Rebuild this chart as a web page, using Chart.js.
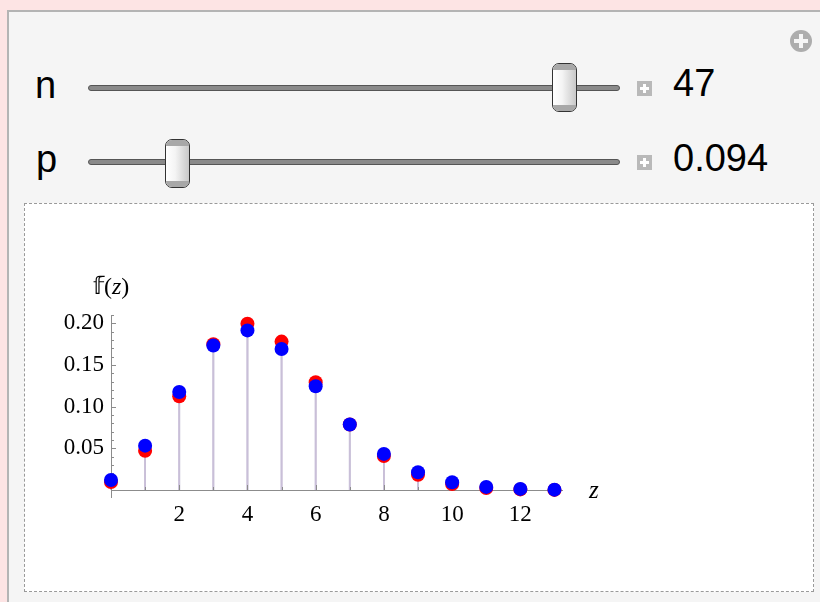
<!DOCTYPE html>
<html>
<head>
<meta charset="utf-8">
<script src="https://cdn.jsdelivr.net/npm/chart.js@4"></script>
<style>
  body { margin: 0; width: 820px; height: 602px; background: #fde4e4; overflow: hidden; position: relative; font-family: "Liberation Sans", Arial, sans-serif; }
  .panel { position: absolute; left: 7px; top: 10px; width: 830px; height: 610px; background: #f5f5f5; border-left: 2px solid #b4b4b4; border-top: 2px solid #b4b4b4; }
  .lbl { position: absolute; font-size: 38px; color: #000; line-height: 1; }
  .track { position: absolute; left: 88px; width: 530px; height: 4px; background: #8a8a8a; border: 1px solid #555; border-radius: 3px; }
  .thumb { position: absolute; width: 23px; height: 47px; border: 1px solid #333; border-radius: 7px; background: linear-gradient(to right, #ffffff 0%, #f4f4f4 40%, #c8c8c8 100%); box-sizing: content-box; overflow: hidden; }
  .thumb::before, .thumb::after { content: ""; position: absolute; left: 0; right: 0; height: 6px; background: #a8a8a8; }
  .thumb::before { top: 0; }
  .thumb::after { bottom: 0; }
  .plus { position: absolute; left: 637px; width: 15px; height: 15px; background: #b9b9b9; }
  .plus::before, .plus::after { content: ""; position: absolute; background: #fff; }
  .plus::before { left: 6px; top: 3px; width: 3px; height: 9px; }
  .plus::after { left: 3px; top: 6px; width: 9px; height: 3px; }
  .gear { position: absolute; left: 790px; top: 30px; width: 22px; height: 22px; border-radius: 50%; background: #adadad; }
  .gear::before, .gear::after { content: ""; position: absolute; background: #f5f5f5; }
  .gear::before { left: 9px; top: 4px; width: 4px; height: 14px; }
  .gear::after { left: 4px; top: 9px; width: 14px; height: 4px; }
  .plot { position: absolute; left: 24px; top: 203px; width: 788px; height: 387px; background: #fff; border: 1px dashed #9a9a9a; }
  #chart { position: absolute; left: 0; top: 0; }
  .axlbl { position: absolute; font-family: "Liberation Serif", "Times New Roman", serif; color: #000; line-height: 1; }
</style>
</head>
<body>
<div class="panel"></div>
<div class="gear"></div>

<div class="lbl" style="left:35px; top:66px;">n</div>
<div class="track" style="top:85px;"></div>
<div class="thumb" style="left:552px; top:63px;"></div>
<div class="plus" style="top:81px;"></div>
<div class="lbl" style="left:673px; top:64px;">47</div>

<div class="lbl" style="left:36px; top:140px;">p</div>
<div class="track" style="top:159px;"></div>
<div class="thumb" style="left:165px; top:139px;"></div>
<div class="plus" style="top:155px;"></div>
<div class="lbl" style="left:673px; top:139px;">0.094</div>

<div class="plot">
  <canvas id="chart" width="788" height="387"></canvas>
  <div class="axlbl" style="left:68px; top:70px; font-size:24px;">𝕗(<i>z</i>)</div>
  <div class="axlbl" style="left:564px; top:273px; font-size:25px;"><i>z</i></div>
</div>

<script>
// valores
const zValues = [0, 1, 2, 3, 4, 5, 6, 7, 8, 9, 10, 11, 12, 13];
const binomial = [0.0097, 0.0471, 0.1124, 0.1749, 0.1996, 0.1781, 0.1293, 0.0786, 0.0408, 0.0183, 0.0072, 0.0025, 0.0008, 0.0002];
const poisson = [0.0121, 0.0533, 0.1177, 0.1734, 0.1915, 0.1692, 0.1246, 0.0786, 0.0434, 0.0213, 0.0094, 0.0038, 0.0014, 0.0005];
const xTicks = [2, 4, 6, 8, 10, 12];
const yTicks = [0.05, 0.10, 0.15, 0.20];

const axisColor = "#8c8c8c";
const stemColor = "#c9bfd8";

// Tallos y ejes al estilo Mathematica (ticks hacia dentro)
const stemsAndAxes = {
    id: "stemsAndAxes",
    beforeDatasetsDraw(chart) {
        const { ctx, chartArea, scales: { x, y } } = chart;
        const y0 = y.getPixelForValue(0);
        ctx.save();
        ctx.strokeStyle = stemColor;
        ctx.lineWidth = 1.8;
        chart.data.datasets.forEach(ds => {
            ds.data.forEach(pt => {
                const px = x.getPixelForValue(pt.x);
                ctx.beginPath();
                ctx.moveTo(px, y0);
                ctx.lineTo(px, y.getPixelForValue(pt.y));
                ctx.stroke();
            });
        });

        ctx.strokeStyle = axisColor;
        ctx.lineWidth = 1;
        // eje y
        ctx.beginPath();
        ctx.moveTo(chartArea.left + 0.5, chartArea.top);
        ctx.lineTo(chartArea.left + 0.5, chartArea.bottom);
        // eje x
        ctx.moveTo(chartArea.left, Math.round(y0) + 0.5);
        ctx.lineTo(chartArea.right, Math.round(y0) + 0.5);
        // ticks x
        for (let v = 1; v <= 13; v++) {
            const px = Math.round(x.getPixelForValue(v)) + 0.5;
            const len = v % 2 === 0 ? 5 : 3;
            ctx.moveTo(px, Math.round(y0));
            ctx.lineTo(px, Math.round(y0) - len);
        }
        // ticks y
        for (let i = 1; i <= 21; i++) {
            const py = Math.round(y.getPixelForValue(i / 100)) + 0.5;
            const len = i % 5 === 0 ? 5 : 3;
            ctx.moveTo(chartArea.left, py);
            ctx.lineTo(chartArea.left + len, py);
        }
        ctx.stroke();
        ctx.restore();
    }
};

const ctx = document.getElementById("chart").getContext("2d");
new Chart(ctx, {
    type: "scatter",
    data: {
        datasets: [
            {
                label: "Binomial",
                data: zValues.map((z, i) => ({ x: z, y: binomial[i] })),
                backgroundColor: "#ff0000",
                borderWidth: 0,
                pointRadius: 7,
                order: 2,
                clip: false
            },
            {
                label: "Poisson",
                data: zValues.map((z, i) => ({ x: z, y: poisson[i] })),
                backgroundColor: "#0000ff",
                borderWidth: 0,
                pointRadius: 7,
                order: 1,
                clip: false
            }
        ]
    },
    options: {
        responsive: false,
        animation: false,
        layout: { padding: { left: 26, top: 111, right: 250, bottom: 63 } },
        plugins: { legend: { display: false }, tooltip: { enabled: false } },
        scales: {
            x: {
                type: "linear",
                min: 0,
                max: 13.25,
                grid: { display: false, drawTicks: false },
                border: { display: false },
                afterBuildTicks: s => { s.ticks = xTicks.map(v => ({ value: v })); },
                afterFit: s => { s.height = 30; },
                ticks: {
                    padding: 3,
                    color: "#000",
                    font: { family: "'Liberation Serif', 'Times New Roman', serif", size: 23 },
                    callback: v => String(v)
                }
            },
            y: {
                type: "linear",
                min: -0.0095,
                max: 0.21,
                grid: { display: false, drawTicks: false },
                border: { display: false },
                afterBuildTicks: s => { s.ticks = yTicks.map(v => ({ value: v })); },
                afterFit: s => { s.width = 60; },
                ticks: {
                    padding: 7,
                    color: "#000",
                    font: { family: "'Liberation Serif', 'Times New Roman', serif", size: 23 },
                    callback: v => v.toFixed(2)
                }
            }
        }
    },
    plugins: [stemsAndAxes]
});
</script>
</body>
</html>
